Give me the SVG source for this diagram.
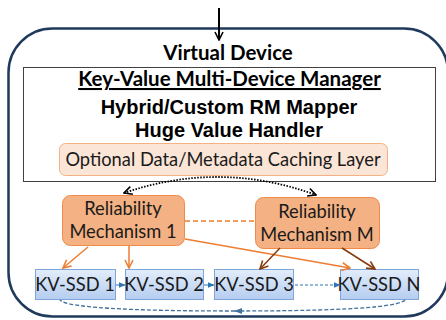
<svg xmlns="http://www.w3.org/2000/svg" width="446" height="320" viewBox="0 0 446 320">
  <defs>
    <linearGradient id="ssdFill" x1="0" y1="0" x2="0" y2="1">
      <stop offset="0" stop-color="#e3edfb"/>
      <stop offset="1" stop-color="#b5cdf0"/>
    </linearGradient>
    <marker id="openBlack" viewBox="0 0 10 10" refX="9" refY="5" markerWidth="10" markerHeight="10" markerUnits="userSpaceOnUse" orient="auto-start-reverse">
      <path d="M1,1 L9,5 L1,9" fill="none" stroke="#000" stroke-width="1.6"/>
    </marker>
    <marker id="openOrange" viewBox="0 0 10 10" refX="9" refY="5" markerWidth="10" markerHeight="10" markerUnits="userSpaceOnUse" orient="auto">
      <path d="M1,1 L9,5 L1,9" fill="none" stroke="#ed7d31" stroke-width="1.6"/>
    </marker>
    <marker id="openBrown" viewBox="0 0 10 10" refX="9" refY="5" markerWidth="10" markerHeight="10" markerUnits="userSpaceOnUse" orient="auto">
      <path d="M1,1 L9,5 L1,9" fill="none" stroke="#843c0c" stroke-width="1.6"/>
    </marker>
    <marker id="blueTri" viewBox="0 0 10 10" refX="9" refY="5" markerWidth="7" markerHeight="7" markerUnits="userSpaceOnUse" orient="auto">
      <path d="M0,1 L10,5 L0,9 Z" fill="#2e75b6"/>
    </marker>
    <marker id="steelTri" viewBox="0 0 10 10" refX="9" refY="5" markerWidth="8" markerHeight="8" markerUnits="userSpaceOnUse" orient="auto">
      <path d="M0,1 L10,5 L0,9 Z" fill="#41719c"/>
    </marker>
  </defs>
  <style>
    .title { font-family: Lato, "Liberation Sans", sans-serif; font-weight: bold; font-size: 20.5px; fill: #000; text-anchor: middle; }
    .arial { font-family: "Liberation Sans", Arial, sans-serif; font-weight: bold; font-size: 20px; fill: #000; text-anchor: middle; }
    .label { font-family: Lato, "Liberation Sans", sans-serif; font-size: 18.3px; fill: #1a1a1a; text-anchor: middle; }
    .rm rect { fill: #f4b183; stroke: #f08a47; stroke-width: 1; }
    .ssd rect { fill: url(#ssdFill); stroke: #7fa6d9; stroke-width: 1; }
  </style>

  <!-- outer virtual device container -->
  <g id="virtual-device">
    <rect x="8.5" y="28.5" width="439.5" height="288" rx="44" ry="44" fill="#fff" stroke="#1f3a5c" stroke-width="2.5"/>
    <text class="title" x="228" y="60">Virtual Device</text>
  </g>

  <!-- multi-device manager panel -->
  <g id="manager">
    <rect x="23.5" y="67.5" width="412" height="114" fill="#fff" stroke="#404040" stroke-width="1"/>
    <text class="title" x="229.5" y="86" text-decoration="underline">Key-Value Multi-Device Manager</text>
    <text class="arial" x="229" y="114">Hybrid/Custom RM Mapper</text>
    <text class="arial" x="229" y="137">Huge Value Handler</text>
  </g>

  <g id="caching-layer">
    <rect x="59.5" y="143.5" width="328" height="32" rx="6" fill="#fbe5d6" stroke="#f4b183" stroke-width="1"/>
    <text class="label" x="223" y="166">Optional Data/Metadata Caching Layer</text>
  </g>

  <g id="rm-1" class="rm">
    <rect x="62.5" y="195.5" width="122" height="50" rx="8"/>
    <text class="label" x="123" y="215">Reliability</text>
    <text class="label" x="123" y="238">Mechanism 1</text>
  </g>

  <g id="rm-m" class="rm">
    <rect x="255.5" y="197.5" width="124" height="51" rx="8"/>
    <text class="label" x="317" y="218">Reliability</text>
    <text class="label" x="317" y="241">Mechanism M</text>
  </g>

  <g id="ssd-1" class="ssd">
    <rect x="35.5" y="269.5" width="80" height="30"/>
    <text class="label" x="75" y="291">KV-SSD 1</text>
  </g>
  <g id="ssd-2" class="ssd">
    <rect x="125.5" y="269.5" width="78" height="30"/>
    <text class="label" x="164" y="291">KV-SSD 2</text>
  </g>
  <g id="ssd-3" class="ssd">
    <rect x="214.5" y="269.5" width="79" height="30"/>
    <text class="label" x="254" y="291">KV-SSD 3</text>
  </g>
  <g id="ssd-n" class="ssd">
    <rect x="340.5" y="269.5" width="78" height="30"/>
    <text class="label" x="379" y="291">KV-SSD N</text>
  </g>

  <!-- connectors -->
  <g id="connectors" fill="none">
    <line x1="219" y1="8" x2="219" y2="40" stroke="#000" stroke-width="2" marker-end="url(#openBlack)"/>
    <path d="M124,193 Q220,160 316,195" stroke="#000" stroke-width="1.8" stroke-dasharray="1.5 1.5" marker-start="url(#openBlack)" marker-end="url(#openBlack)"/>
    <line x1="185" y1="221" x2="255" y2="221" stroke="#ed7d31" stroke-width="1.5" stroke-dasharray="5 3"/>
    <line x1="88" y1="247" x2="63" y2="268" stroke="#ed7d31" stroke-width="1.5" marker-end="url(#openOrange)"/>
    <line x1="129" y1="246" x2="129" y2="268" stroke="#ed7d31" stroke-width="1.5" marker-end="url(#openOrange)"/>
    <line x1="185" y1="239" x2="350" y2="268" stroke="#ed7d31" stroke-width="1.5" marker-end="url(#openOrange)"/>
    <line x1="280" y1="248" x2="260" y2="269" stroke="#843c0c" stroke-width="1.5" marker-end="url(#openBrown)"/>
    <line x1="342" y1="248" x2="375" y2="269" stroke="#843c0c" stroke-width="1.5" marker-end="url(#openBrown)"/>
    <line x1="116" y1="285" x2="125" y2="285" stroke="#2e75b6" stroke-width="1" marker-end="url(#blueTri)"/>
    <line x1="204" y1="285" x2="214" y2="285" stroke="#2e75b6" stroke-width="1" marker-end="url(#blueTri)"/>
    <line x1="295" y1="285" x2="340" y2="285" stroke="#2e75b6" stroke-width="1" stroke-dasharray="3 2" marker-end="url(#blueTri)"/>
    <path d="M405,300 Q395,311 235,311" stroke="#41719c" stroke-width="1.3" stroke-dasharray="4 2" marker-end="url(#steelTri)"/>
    <path d="M235,311 Q70,311 60,300" stroke="#41719c" stroke-width="1.3" stroke-dasharray="4 2"/>
  </g>
</svg>
